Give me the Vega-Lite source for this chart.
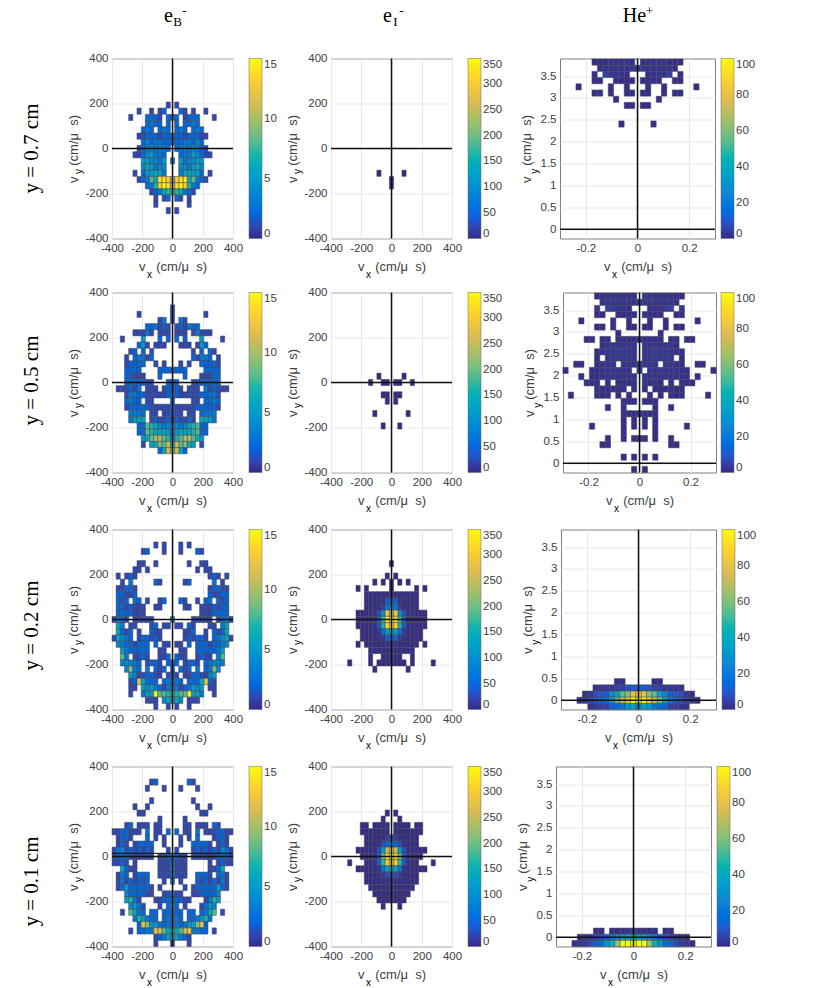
{"$schema":"https://vega.github.io/schema/vega-lite/v6.json","padding":{"left":20,"top":3.5,"right":0,"bottom":0},"background":"white","spacing":8,"resolve":{"scale":{"color":"independent"}},"config":{"view":{"stroke":"#808080"},"font":"Liberation Sans","axis":{"grid":true,"gridColor":"#e8e8e8","domain":false,"tickSize":0,"labelPadding":4,"labelFontSize":11.5,"labelColor":"#404040","titleFontSize":13,"titleFontWeight":"normal","titleColor":"#404040","labelExpr":"toString(datum.value)","labelFlush":false,"labelOverlap":false},"axisX":{"titlePadding":6},"axisY":{"titlePadding":4},"legend":{"gradientLength":180,"gradientThickness":13,"title":null,"offset":15.5,"labelFontSize":11.5,"labelColor":"#404040","gradientStrokeColor":"#666","gradientStrokeWidth":0.5,"labelOverlap":false},"rect":{"stroke":"#444","strokeWidth":0.5,"height":6.2,"clip":true},"rule":{"stroke":"#111","strokeWidth":1.5},"style":{"sub":{"font":"Liberation Sans","fontSize":10,"fill":"#404040"},"rl":{"font":"Liberation Serif","fontSize":21,"angle":270,"fill":"#111"},"hd":{"font":"Liberation Serif","fontSize":20,"fill":"#111","baseline":"alphabetic"},"hs":{"font":"Liberation Serif","fontSize":13,"fill":"#111","baseline":"alphabetic"}}},"vconcat":[{"spacing":5,"resolve":{"scale":{"color":"independent"}},"vconcat":[{"spacing":15,"resolve":{"scale":{"color":"independent"}},"hconcat":[{"spacing":8,"resolve":{"scale":{"color":"independent"}},"hconcat":[
{"width":121,"height":180,"layer":[{"data":{"values":"x,y,v\n-28,193,1\n28,193,1\n-221,166,1\n221,166,1\n-138,166,1\n138,166,1\n-83,166,1\n83,166,1\n-55,166,2\n55,166,2\n-276,138,1\n276,138,1\n-166,138,2\n166,138,2\n-138,138,2\n138,138,2\n-110,138,2\n110,138,2\n-83,138,1\n83,138,1\n-28,138,2\n28,138,2\n0,138,2\n-166,110,2\n166,110,2\n-138,110,3\n138,110,3\n-110,110,2\n110,110,2\n-83,110,2\n83,110,2\n-28,110,2\n28,110,2\n-193,83,2\n193,83,2\n-166,83,3\n166,83,3\n-138,83,2\n138,83,2\n-83,83,2\n83,83,2\n-55,83,3\n55,83,3\n-28,83,2\n28,83,2\n-221,55,1\n221,55,1\n-193,55,1\n193,55,1\n-166,55,2\n166,55,2\n-138,55,2\n138,55,2\n-110,55,2\n110,55,2\n-83,55,1\n83,55,1\n-55,55,2\n55,55,2\n-28,55,2\n28,55,2\n0,55,2\n-193,28,2\n193,28,2\n-166,28,4\n166,28,4\n-138,28,2\n138,28,2\n-110,28,3\n110,28,3\n-83,28,3\n83,28,3\n-55,28,2\n55,28,2\n-28,28,2\n28,28,2\n0,28,3\n-221,0,1\n221,0,1\n-193,0,2\n193,0,2\n-166,0,3\n166,0,3\n-138,0,4\n138,0,4\n-110,0,3\n110,0,3\n-83,0,4\n83,0,4\n-55,0,3\n55,0,3\n-28,0,2\n28,0,2\n-248,-28,1\n248,-28,1\n-221,-28,1\n221,-28,1\n-193,-28,2\n193,-28,2\n-166,-28,4\n166,-28,4\n-138,-28,5\n138,-28,5\n-110,-28,3\n110,-28,3\n-83,-28,3\n83,-28,3\n-55,-28,2\n55,-28,2\n-193,-55,5\n193,-55,5\n-166,-55,5\n166,-55,5\n-138,-55,4\n138,-55,4\n-110,-55,4\n110,-55,4\n-83,-55,3\n83,-55,3\n-55,-55,5\n55,-55,5\n0,-55,3\n-193,-83,4\n193,-83,4\n-166,-83,6\n166,-83,6\n-138,-83,5\n138,-83,5\n-110,-83,3\n110,-83,3\n-83,-83,4\n83,-83,4\n-55,-83,4\n55,-83,4\n-248,-110,1\n248,-110,1\n-193,-110,2\n193,-110,2\n-166,-110,5\n166,-110,5\n-138,-110,5\n138,-110,5\n-110,-110,6\n110,-110,6\n-83,-110,6\n83,-110,6\n-55,-110,3\n55,-110,3\n-221,-138,1\n221,-138,1\n-193,-138,2\n193,-138,2\n-166,-138,3\n166,-138,3\n-138,-138,8\n138,-138,8\n-110,-138,6\n110,-138,6\n-83,-138,14\n83,-138,14\n-55,-138,14\n55,-138,14\n-28,-138,13\n28,-138,13\n0,-138,10\n-166,-166,2\n166,-166,2\n-138,-166,3\n138,-166,3\n-110,-166,7\n110,-166,7\n-83,-166,13\n83,-166,13\n-55,-166,15\n55,-166,15\n-28,-166,14\n28,-166,14\n0,-166,11\n-138,-193,1\n138,-193,1\n-110,-193,2\n110,-193,2\n-83,-193,3\n83,-193,3\n-55,-193,6\n55,-193,6\n-28,-193,7\n28,-193,7\n0,-193,7\n-110,-221,1\n110,-221,1\n-55,-221,1\n55,-221,1\n-28,-221,2\n28,-221,2\n-110,-248,1\n110,-248,1\n-28,-276,1\n28,-276,1","format":{"type":"csv"}},"mark":{"type":"rect","width":4.2},"encoding":{"x":{"field":"x","type":"quantitative","scale":{"domain":[-400,400],"nice":false},"axis":{"tickCount":5,"title":"v\u00a0\u00a0\u00a0(cm/μ\u00a0\u00a0s)"}},"y":{"field":"y","type":"quantitative","scale":{"domain":[-400,400],"nice":false},"axis":{"tickCount":5,"title":"v\u00a0\u00a0\u00a0(cm/μ\u00a0\u00a0s)"}},"color":{"field":"v","type":"quantitative","scale":{"domain":[0,15],"range":["#352a87","#0363e1","#1485d4","#06a7c6","#38b99e","#92bf73","#d9ba56","#fcce2e","#f9fb0e"]},"legend":{"values":[0,5,10,15]}}}},{"data":{"values":[{"a":0}]},"mark":"rule","encoding":{"x":{"datum":0}}},{"data":{"values":[{"a":0}]},"mark":"rule","encoding":{"y":{"datum":0}}},{"data":{"values":[{"t":"x"}]},"mark":{"type":"text","style":"sub","dx":-23,"dy":36},"encoding":{"x":{"datum":0},"y":{"datum":-400},"text":{"field":"t"}}},{"data":{"values":[{"t":"y"}]},"mark":{"type":"text","style":"sub","angle":270,"dx":-23,"dy":-33},"encoding":{"x":{"datum":-400},"y":{"datum":0},"text":{"field":"t"}}},{"data":{"values":[{"t":"y = 0.7 cm"}]},"mark":{"type":"text","style":"rl","dy":-80},"encoding":{"x":{"datum":-400},"y":{"datum":0},"text":{"field":"t"}}},{"data":{"values":[{"t":"e"}]},"mark":{"type":"text","style":"hd","dx":-4,"dy":-37},"encoding":{"x":{"datum":0},"y":{"datum":400},"text":{"field":"t"}}},{"data":{"values":[{"t":"B"}]},"mark":{"type":"text","style":"hs","dx":5,"dy":-33},"encoding":{"x":{"datum":0},"y":{"datum":400},"text":{"field":"t"}}},{"data":{"values":[{"t":"-"}]},"mark":{"type":"text","style":"hs","dx":12,"dy":-44},"encoding":{"x":{"datum":0},"y":{"datum":400},"text":{"field":"t"}}}]},
{"width":121,"height":180,"layer":[{"data":{"values":"x,y,v\n-83,-110,1\n83,-110,1\n0,-166,1\n0,-138,1","format":{"type":"csv"}},"mark":{"type":"rect","width":4.2},"encoding":{"x":{"field":"x","type":"quantitative","scale":{"domain":[-400,400],"nice":false},"axis":{"tickCount":5,"title":"v\u00a0\u00a0\u00a0(cm/μ\u00a0\u00a0s)"}},"y":{"field":"y","type":"quantitative","scale":{"domain":[-400,400],"nice":false},"axis":{"tickCount":5,"title":"v\u00a0\u00a0\u00a0(cm/μ\u00a0\u00a0s)"}},"color":{"field":"v","type":"quantitative","scale":{"domain":[0,350],"range":["#352a87","#0363e1","#1485d4","#06a7c6","#38b99e","#92bf73","#d9ba56","#fcce2e","#f9fb0e"]},"legend":{"values":[0,50,100,150,200,250,300,350]}}}},{"data":{"values":[{"a":0}]},"mark":"rule","encoding":{"x":{"datum":0}}},{"data":{"values":[{"a":0}]},"mark":"rule","encoding":{"y":{"datum":0}}},{"data":{"values":[{"t":"x"}]},"mark":{"type":"text","style":"sub","dx":-23,"dy":36},"encoding":{"x":{"datum":0},"y":{"datum":-400},"text":{"field":"t"}}},{"data":{"values":[{"t":"y"}]},"mark":{"type":"text","style":"sub","angle":270,"dx":-23,"dy":-33},"encoding":{"x":{"datum":-400},"y":{"datum":0},"text":{"field":"t"}}},{"data":{"values":[{"t":"e"}]},"mark":{"type":"text","style":"hd","dx":-4,"dy":-37},"encoding":{"x":{"datum":0},"y":{"datum":400},"text":{"field":"t"}}},{"data":{"values":[{"t":"I"}]},"mark":{"type":"text","style":"hs","dx":4,"dy":-33},"encoding":{"x":{"datum":0},"y":{"datum":400},"text":{"field":"t"}}},{"data":{"values":[{"t":"-"}]},"mark":{"type":"text","style":"hs","dx":10,"dy":-44},"encoding":{"x":{"datum":0},"y":{"datum":400},"text":{"field":"t"}}}]}]},
{"width":155,"height":180,"layer":[{"data":{"values":"x,y,v\n-.166,3.818,1\n.166,3.818,1\n-.145,3.818,1\n.145,3.818,1\n-.124,3.818,1\n.124,3.818,1\n-.103,3.818,2\n.103,3.818,2\n-.083,3.818,2\n.083,3.818,2\n-.062,3.818,2\n.062,3.818,2\n-.041,3.818,2\n.041,3.818,2\n-.021,3.818,1\n.021,3.818,1\n-.145,3.676,1\n.145,3.676,1\n-.124,3.676,2\n.124,3.676,2\n-.103,3.676,2\n.103,3.676,2\n-.083,3.676,2\n.083,3.676,2\n-.062,3.676,2\n.062,3.676,2\n-.041,3.676,2\n.041,3.676,2\n-.021,3.676,2\n.021,3.676,2\n0,3.676,2\n-.166,3.535,1\n.166,3.535,1\n-.124,3.535,5\n.124,3.535,5\n-.103,3.535,2\n.103,3.535,2\n-.083,3.535,2\n.083,3.535,2\n-.062,3.535,2\n.062,3.535,2\n-.041,3.535,1\n.041,3.535,1\n-.166,3.394,1\n.166,3.394,1\n-.145,3.394,1\n.145,3.394,1\n-.083,3.394,1\n.083,3.394,1\n-.062,3.394,1\n.062,3.394,1\n-.041,3.394,1\n.041,3.394,1\n-.021,3.394,1\n.021,3.394,1\n-.228,3.252,1\n.228,3.252,1\n-.103,3.252,1\n.103,3.252,1\n-.041,3.252,1\n.041,3.252,1\n-.166,3.111,1\n.166,3.111,1\n-.145,3.111,1\n.145,3.111,1\n-.103,3.111,1\n.103,3.111,1\n-.041,3.111,1\n.041,3.111,1\n-.021,3.111,1\n.021,3.111,1\n-.083,2.969,1\n.083,2.969,1\n-.041,2.828,1\n.041,2.828,1\n-.021,2.828,1\n.021,2.828,1\n-.062,2.404,1\n.062,2.404,1","format":{"type":"csv"}},"mark":{"type":"rect","width":5.35},"encoding":{"x":{"field":"x","type":"quantitative","scale":{"domain":[-0.3,0.3],"nice":false},"axis":{"tickCount":3,"title":"v\u00a0\u00a0\u00a0(cm/μ\u00a0\u00a0s)"}},"y":{"field":"y","type":"quantitative","scale":{"domain":[-0.21,3.9],"nice":false},"axis":{"tickCount":8,"titlePadding":7,"title":"v\u00a0\u00a0\u00a0(cm/μ\u00a0\u00a0s)"}},"color":{"field":"v","type":"quantitative","scale":{"domain":[0,100],"range":["#352a87","#0363e1","#1485d4","#06a7c6","#38b99e","#92bf73","#d9ba56","#fcce2e","#f9fb0e"]},"legend":{"values":[0,20,40,60,80,100],"offset":6}}}},{"data":{"values":[{"a":0}]},"mark":"rule","encoding":{"x":{"datum":0}}},{"data":{"values":[{"a":0}]},"mark":"rule","encoding":{"y":{"datum":0}}},{"data":{"values":[{"t":"x"}]},"mark":{"type":"text","style":"sub","dx":-23,"dy":36},"encoding":{"x":{"datum":0},"y":{"datum":-0.21},"text":{"field":"t"}}},{"data":{"values":[{"t":"y"}]},"mark":{"type":"text","style":"sub","angle":270,"dx":-23,"dy":-25},"encoding":{"x":{"datum":-0.3},"y":{"datum":1.85},"text":{"field":"t"}}},{"data":{"values":[{"t":"He"}]},"mark":{"type":"text","style":"hd","dx":-3,"dy":-37},"encoding":{"x":{"datum":0},"y":{"datum":3.9},"text":{"field":"t"}}},{"data":{"values":[{"t":"+"}]},"mark":{"type":"text","style":"hs","dx":12,"dy":-44},"encoding":{"x":{"datum":0},"y":{"datum":3.9},"text":{"field":"t"}}}]}]},
{"spacing":18,"resolve":{"scale":{"color":"independent"}},"hconcat":[{"spacing":8,"resolve":{"scale":{"color":"independent"}},"hconcat":[
{"width":121,"height":180,"layer":[{"data":{"values":"x,y,v\n0,331,1\n-221,303,1\n221,303,1\n0,303,1\n-83,276,1\n83,276,1\n-55,276,3\n55,276,3\n0,276,1\n-166,248,2\n166,248,2\n-138,248,2\n138,248,2\n-110,248,3\n110,248,3\n-83,248,1\n83,248,1\n-55,248,2\n55,248,2\n-28,248,1\n28,248,1\n-248,221,1\n248,221,1\n-221,221,1\n221,221,1\n-193,221,1\n193,221,1\n-166,221,3\n166,221,3\n-138,221,1\n138,221,1\n-83,221,1\n83,221,1\n-55,221,1\n55,221,1\n-28,221,1\n28,221,1\n-331,193,1\n331,193,1\n-193,193,5\n193,193,5\n-83,193,2\n83,193,2\n-28,193,2\n28,193,2\n-221,166,2\n221,166,2\n-193,166,5\n193,166,5\n-166,166,1\n166,166,1\n-110,166,1\n110,166,1\n-83,166,1\n83,166,1\n-55,166,1\n55,166,1\n-276,138,1\n276,138,1\n-248,138,2\n248,138,2\n-193,138,2\n193,138,2\n-138,138,1\n138,138,1\n-303,110,1\n303,110,1\n-248,110,2\n248,110,2\n-221,110,3\n221,110,3\n-193,110,3\n193,110,3\n-166,110,1\n166,110,1\n-138,110,2\n138,110,2\n-303,83,1\n303,83,1\n-276,83,2\n276,83,2\n-248,83,2\n248,83,2\n-221,83,2\n221,83,2\n-193,83,2\n193,83,2\n-110,83,1\n110,83,1\n-55,83,1\n55,83,1\n-303,55,2\n303,55,2\n-276,55,2\n276,55,2\n-248,55,2\n248,55,2\n-221,55,2\n221,55,2\n-83,55,2\n83,55,2\n-55,55,2\n55,55,2\n-28,55,2\n28,55,2\n0,55,2\n-303,28,2\n303,28,2\n-276,28,2\n276,28,2\n-248,28,1\n248,28,1\n-221,28,1\n221,28,1\n-193,28,1\n193,28,1\n-83,28,2\n83,28,2\n-303,0,2\n303,0,2\n-276,0,2\n276,0,2\n-248,0,2\n248,0,2\n-221,0,2\n221,0,2\n-193,0,2\n193,0,2\n-166,0,1\n166,0,1\n-138,0,1\n138,0,1\n-28,0,2\n28,0,2\n0,0,2\n-359,-28,1\n359,-28,1\n-331,-28,1\n331,-28,1\n-303,-28,1\n303,-28,1\n-276,-28,2\n276,-28,2\n-248,-28,1\n248,-28,1\n-221,-28,3\n221,-28,3\n-166,-28,1\n166,-28,1\n-138,-28,1\n138,-28,1\n-110,-28,1\n110,-28,1\n-55,-28,1\n55,-28,1\n-28,-28,2\n28,-28,2\n0,-28,2\n-303,-55,1\n303,-55,1\n-276,-55,3\n276,-55,3\n-248,-55,3\n248,-55,3\n-221,-55,2\n221,-55,2\n-193,-55,2\n193,-55,2\n-166,-55,1\n166,-55,1\n-138,-55,1\n138,-55,1\n-110,-55,1\n110,-55,1\n-83,-55,1\n83,-55,1\n-55,-55,1\n55,-55,1\n-28,-55,2\n28,-55,2\n0,-55,3\n-303,-83,2\n303,-83,2\n-276,-83,3\n276,-83,3\n-248,-83,2\n248,-83,2\n-221,-83,2\n221,-83,2\n-166,-83,1\n166,-83,1\n-138,-83,1\n138,-83,1\n0,-83,2\n-303,-110,1\n303,-110,1\n-276,-110,2\n276,-110,2\n-248,-110,2\n248,-110,2\n-221,-110,2\n221,-110,2\n-193,-110,2\n193,-110,2\n-166,-110,2\n166,-110,2\n-138,-110,1\n138,-110,1\n-110,-110,1\n110,-110,1\n-83,-110,1\n83,-110,1\n-55,-110,1\n55,-110,1\n-28,-110,1\n28,-110,1\n0,-110,2\n-276,-138,3\n276,-138,3\n-248,-138,3\n248,-138,3\n-221,-138,3\n221,-138,3\n-193,-138,2\n193,-138,2\n-138,-138,1\n138,-138,1\n-110,-138,1\n110,-138,1\n-55,-138,1\n55,-138,1\n-28,-138,1\n28,-138,1\n0,-138,2\n-276,-166,3\n276,-166,3\n-248,-166,5\n248,-166,5\n-221,-166,6\n221,-166,6\n-193,-166,6\n193,-166,6\n-138,-166,1\n138,-166,1\n-110,-166,2\n110,-166,2\n-83,-166,1\n83,-166,1\n-55,-166,1\n55,-166,1\n-28,-166,2\n28,-166,2\n0,-166,1\n-221,-193,2\n221,-193,2\n-193,-193,2\n193,-193,2\n-166,-193,8\n166,-193,8\n-138,-193,7\n138,-193,7\n-110,-193,6\n110,-193,6\n-83,-193,4\n83,-193,4\n-55,-193,3\n55,-193,3\n-28,-193,4\n28,-193,4\n0,-193,4\n-221,-221,2\n221,-221,2\n-193,-221,2\n193,-221,2\n-166,-221,8\n166,-221,8\n-138,-221,7\n138,-221,7\n-110,-221,6\n110,-221,6\n-83,-221,6\n83,-221,6\n-55,-221,6\n55,-221,6\n-28,-221,5\n28,-221,5\n0,-221,3\n-193,-248,5\n193,-248,5\n-166,-248,6\n166,-248,6\n-138,-248,8\n138,-248,8\n-110,-248,10\n110,-248,10\n-83,-248,10\n83,-248,10\n-55,-248,8\n55,-248,8\n-28,-248,7\n28,-248,7\n0,-248,3\n-193,-276,1\n193,-276,1\n-138,-276,5\n138,-276,5\n-110,-276,6\n110,-276,6\n-83,-276,9\n83,-276,9\n-55,-276,8\n55,-276,8\n-28,-276,11\n28,-276,11\n0,-276,6\n-83,-303,2\n83,-303,2\n-55,-303,6\n55,-303,6\n-28,-303,11\n28,-303,11\n0,-303,9","format":{"type":"csv"}},"mark":{"type":"rect","width":4.2},"encoding":{"x":{"field":"x","type":"quantitative","scale":{"domain":[-400,400],"nice":false},"axis":{"tickCount":5,"title":"v\u00a0\u00a0\u00a0(cm/μ\u00a0\u00a0s)"}},"y":{"field":"y","type":"quantitative","scale":{"domain":[-400,400],"nice":false},"axis":{"tickCount":5,"title":"v\u00a0\u00a0\u00a0(cm/μ\u00a0\u00a0s)"}},"color":{"field":"v","type":"quantitative","scale":{"domain":[0,15],"range":["#352a87","#0363e1","#1485d4","#06a7c6","#38b99e","#92bf73","#d9ba56","#fcce2e","#f9fb0e"]},"legend":{"values":[0,5,10,15]}}}},{"data":{"values":[{"a":0}]},"mark":"rule","encoding":{"x":{"datum":0}}},{"data":{"values":[{"a":0}]},"mark":"rule","encoding":{"y":{"datum":0}}},{"data":{"values":[{"t":"x"}]},"mark":{"type":"text","style":"sub","dx":-23,"dy":36},"encoding":{"x":{"datum":0},"y":{"datum":-400},"text":{"field":"t"}}},{"data":{"values":[{"t":"y"}]},"mark":{"type":"text","style":"sub","angle":270,"dx":-23,"dy":-33},"encoding":{"x":{"datum":-400},"y":{"datum":0},"text":{"field":"t"}}},{"data":{"values":[{"t":"y = 0.5 cm"}]},"mark":{"type":"text","style":"rl","dy":-80,"dx":2},"encoding":{"x":{"datum":-400},"y":{"datum":0},"text":{"field":"t"}}}]},
{"width":121,"height":180,"layer":[{"data":{"values":"x,y,v\n-83,28,1\n83,28,1\n-138,0,1\n138,0,1\n-55,0,1\n55,0,1\n-28,0,1\n28,0,1\n-55,-55,1\n55,-55,1\n-28,-55,1\n28,-55,1\n-28,-83,1\n28,-83,1\n-110,-138,1\n110,-138,1\n-55,-193,1\n55,-193,1","format":{"type":"csv"}},"mark":{"type":"rect","width":4.2},"encoding":{"x":{"field":"x","type":"quantitative","scale":{"domain":[-400,400],"nice":false},"axis":{"tickCount":5,"title":"v\u00a0\u00a0\u00a0(cm/μ\u00a0\u00a0s)"}},"y":{"field":"y","type":"quantitative","scale":{"domain":[-400,400],"nice":false},"axis":{"tickCount":5,"title":"v\u00a0\u00a0\u00a0(cm/μ\u00a0\u00a0s)"}},"color":{"field":"v","type":"quantitative","scale":{"domain":[0,350],"range":["#352a87","#0363e1","#1485d4","#06a7c6","#38b99e","#92bf73","#d9ba56","#fcce2e","#f9fb0e"]},"legend":{"values":[0,50,100,150,200,250,300,350]}}}},{"data":{"values":[{"a":0}]},"mark":"rule","encoding":{"x":{"datum":0}}},{"data":{"values":[{"a":0}]},"mark":"rule","encoding":{"y":{"datum":0}}},{"data":{"values":[{"t":"x"}]},"mark":{"type":"text","style":"sub","dx":-23,"dy":36},"encoding":{"x":{"datum":0},"y":{"datum":-400},"text":{"field":"t"}}},{"data":{"values":[{"t":"y"}]},"mark":{"type":"text","style":"sub","angle":270,"dx":-23,"dy":-33},"encoding":{"x":{"datum":-400},"y":{"datum":0},"text":{"field":"t"}}}]}]},
{"width":153,"height":180,"layer":[{"data":{"values":"x,y,v\n-.166,3.818,1\n.166,3.818,1\n-.145,3.818,2\n.145,3.818,2\n-.124,3.818,2\n.124,3.818,2\n-.103,3.818,2\n.103,3.818,2\n-.083,3.818,2\n.083,3.818,2\n-.062,3.818,2\n.062,3.818,2\n-.041,3.818,2\n.041,3.818,2\n-.021,3.818,2\n.021,3.818,2\n-.145,3.676,2\n.145,3.676,2\n-.124,3.676,2\n.124,3.676,2\n-.103,3.676,2\n.103,3.676,2\n-.083,3.676,2\n.083,3.676,2\n-.062,3.676,2\n.062,3.676,2\n-.041,3.676,2\n.041,3.676,2\n-.021,3.676,2\n.021,3.676,2\n0,3.676,2\n-.166,3.535,2\n.166,3.535,2\n-.124,3.535,5\n.124,3.535,5\n-.103,3.535,3\n.103,3.535,3\n-.083,3.535,2\n.083,3.535,2\n-.062,3.535,2\n.062,3.535,2\n-.041,3.535,1\n.041,3.535,1\n-.166,3.394,1\n.166,3.394,1\n-.145,3.394,1\n.145,3.394,1\n-.083,3.394,1\n.083,3.394,1\n-.062,3.394,1\n.062,3.394,1\n-.041,3.394,1\n.041,3.394,1\n-.021,3.394,1\n.021,3.394,1\n-.228,3.252,1\n.228,3.252,1\n-.103,3.252,1\n.103,3.252,1\n-.041,3.252,1\n.041,3.252,1\n-.166,3.111,1\n.166,3.111,1\n-.145,3.111,1\n.145,3.111,1\n-.103,3.111,1\n.103,3.111,1\n-.041,3.111,1\n.041,3.111,1\n-.021,3.111,1\n.021,3.111,1\n-.083,2.969,1\n.083,2.969,1\n-.207,2.828,1\n.207,2.828,1\n-.186,2.828,1\n.186,2.828,1\n-.145,2.828,1\n.145,2.828,1\n-.124,2.828,1\n.124,2.828,1\n-.083,2.828,1\n.083,2.828,1\n-.062,2.828,1\n.062,2.828,1\n-.041,2.828,1\n.041,2.828,1\n-.021,2.828,1\n.021,2.828,1\n0,2.828,1\n-.145,2.687,1\n.145,2.687,1\n-.124,2.687,2\n.124,2.687,2\n-.103,2.687,2\n.103,2.687,2\n-.083,2.687,2\n.083,2.687,2\n-.062,2.687,2\n.062,2.687,2\n-.041,2.687,2\n.041,2.687,2\n-.021,2.687,2\n.021,2.687,2\n-.166,2.545,1\n.166,2.545,1\n-.145,2.545,2\n.145,2.545,2\n-.124,2.545,2\n.124,2.545,2\n-.103,2.545,3\n.103,2.545,3\n-.083,2.545,3\n.083,2.545,3\n-.062,2.545,4\n.062,2.545,4\n-.041,2.545,2\n.041,2.545,2\n-.021,2.545,2\n.021,2.545,2\n-.166,2.404,1\n.166,2.404,1\n-.124,2.404,2\n.124,2.404,2\n-.103,2.404,3\n.103,2.404,3\n-.083,2.404,3\n.083,2.404,3\n-.062,2.404,3\n.062,2.404,3\n-.041,2.404,2\n.041,2.404,2\n-.021,2.404,2\n.021,2.404,2\n-.248,2.262,1\n.248,2.262,1\n-.228,2.262,1\n.228,2.262,1\n-.166,2.262,1\n.166,2.262,1\n-.145,2.262,2\n.145,2.262,2\n-.124,2.262,2\n.124,2.262,2\n-.103,2.262,2\n.103,2.262,2\n-.062,2.262,2\n.062,2.262,2\n-.041,2.262,3\n.041,2.262,3\n-.021,2.262,2\n.021,2.262,2\n0,2.262,2\n-.29,2.121,1\n.29,2.121,1\n-.186,2.121,1\n.186,2.121,1\n-.166,2.121,1\n.166,2.121,1\n-.145,2.121,2\n.145,2.121,2\n-.124,2.121,2\n.124,2.121,2\n-.103,2.121,2\n.103,2.121,2\n-.083,2.121,3\n.083,2.121,3\n-.062,2.121,2\n.062,2.121,2\n-.041,2.121,2\n.041,2.121,2\n0,2.121,2\n-.228,1.98,1\n.228,1.98,1\n-.186,1.98,1\n.186,1.98,1\n-.166,1.98,1\n.166,1.98,1\n-.145,1.98,2\n.145,1.98,2\n-.124,1.98,2\n.124,1.98,2\n-.103,1.98,2\n.103,1.98,2\n-.083,1.98,2\n.083,1.98,2\n-.062,1.98,2\n.062,1.98,2\n-.041,1.98,2\n.041,1.98,2\n-.021,1.98,2\n.021,1.98,2\n-.207,1.838,1\n.207,1.838,1\n-.186,1.838,1\n.186,1.838,1\n-.166,1.838,1\n.166,1.838,1\n-.124,1.838,1\n.124,1.838,1\n-.083,1.838,1\n.083,1.838,1\n-.062,1.838,2\n.062,1.838,2\n-.041,1.838,1\n.041,1.838,1\n-.021,1.838,2\n.021,1.838,2\n-.166,1.697,1\n.166,1.697,1\n-.145,1.697,1\n.145,1.697,1\n-.124,1.697,1\n.124,1.697,1\n-.103,1.697,1\n.103,1.697,1\n-.083,1.697,1\n.083,1.697,1\n-.062,1.697,1\n.062,1.697,1\n-.021,1.697,1\n.021,1.697,1\n-.269,1.555,1\n.269,1.555,1\n-.166,1.555,1\n.166,1.555,1\n-.145,1.555,1\n.145,1.555,1\n-.124,1.555,1\n.124,1.555,1\n-.083,1.555,1\n.083,1.555,1\n-.041,1.555,1\n.041,1.555,1\n-.062,1.414,2\n.062,1.414,2\n-.041,1.414,1\n.041,1.414,1\n-.021,1.414,1\n.021,1.414,1\n-.124,1.273,1\n.124,1.273,1\n-.062,1.273,1\n.062,1.273,1\n-.062,1.131,1\n.062,1.131,1\n-.041,1.131,1\n.041,1.131,1\n-.021,1.131,1\n.021,1.131,1\n0,1.131,1\n-.062,.99,1\n.062,.99,1\n-.021,.99,1\n.021,.99,1\n-.186,.848,1\n.186,.848,1\n-.062,.848,1\n.062,.848,1\n-.021,.848,1\n.021,.848,1\n-.062,.707,1\n.062,.707,1\n-.124,.566,1\n.124,.566,1\n-.062,.566,1\n.062,.566,1\n-.021,.566,1\n.021,.566,1\n0,.566,1\n-.145,.424,1\n.145,.424,1\n-.124,.424,1\n.124,.424,1\n-.062,.141,1\n.062,.141,1\n-.021,.141,1\n.021,.141,1\n-.021,-.141,1\n.021,-.141,1","format":{"type":"csv"}},"mark":{"type":"rect","width":5.3},"encoding":{"x":{"field":"x","type":"quantitative","scale":{"domain":[-0.3,0.3],"nice":false},"axis":{"tickCount":3,"title":"v\u00a0\u00a0\u00a0(cm/μ\u00a0\u00a0s)"}},"y":{"field":"y","type":"quantitative","scale":{"domain":[-0.21,3.9],"nice":false},"axis":{"tickCount":8,"titlePadding":7,"title":"v\u00a0\u00a0\u00a0(cm/μ\u00a0\u00a0s)"}},"color":{"field":"v","type":"quantitative","scale":{"domain":[0,100],"range":["#352a87","#0363e1","#1485d4","#06a7c6","#38b99e","#92bf73","#d9ba56","#fcce2e","#f9fb0e"]},"legend":{"values":[0,20,40,60,80,100],"offset":5}}}},{"data":{"values":[{"a":0}]},"mark":"rule","encoding":{"x":{"datum":0}}},{"data":{"values":[{"a":0}]},"mark":"rule","encoding":{"y":{"datum":0}}},{"data":{"values":[{"t":"x"}]},"mark":{"type":"text","style":"sub","dx":-23,"dy":36},"encoding":{"x":{"datum":0},"y":{"datum":-0.21},"text":{"field":"t"}}},{"data":{"values":[{"t":"y"}]},"mark":{"type":"text","style":"sub","angle":270,"dx":-23,"dy":-25},"encoding":{"x":{"datum":-0.3},"y":{"datum":1.85},"text":{"field":"t"}}}]}]}]},
{"spacing":16,"resolve":{"scale":{"color":"independent"}},"hconcat":[{"spacing":8,"resolve":{"scale":{"color":"independent"}},"hconcat":[
{"width":121,"height":180,"layer":[{"data":{"values":"x,y,v\n-110,331,1\n110,331,1\n-55,331,1\n55,331,1\n-193,303,1\n193,303,1\n-166,303,2\n166,303,2\n-55,303,1\n55,303,1\n-221,248,1\n221,248,1\n-193,248,1\n193,248,1\n-110,248,1\n110,248,1\n-248,221,1\n248,221,1\n-221,221,1\n221,221,1\n-166,221,1\n166,221,1\n-359,193,1\n359,193,1\n-303,193,1\n303,193,1\n-276,193,2\n276,193,2\n-248,193,1\n248,193,1\n-331,166,1\n331,166,1\n-276,166,3\n276,166,3\n-110,166,2\n110,166,2\n-83,166,1\n83,166,1\n-359,138,1\n359,138,1\n-331,138,1\n331,138,1\n-303,138,2\n303,138,2\n-276,138,2\n276,138,2\n-248,138,1\n248,138,1\n-359,110,2\n359,110,2\n-331,110,2\n331,110,2\n-303,110,1\n303,110,1\n-276,110,1\n276,110,1\n-248,110,2\n248,110,2\n-359,83,2\n359,83,2\n-331,83,1\n331,83,1\n-303,83,2\n303,83,2\n-248,83,3\n248,83,3\n-221,83,2\n221,83,2\n-166,83,1\n166,83,1\n-83,83,1\n83,83,1\n-55,83,2\n55,83,2\n-359,55,2\n359,55,2\n-331,55,2\n331,55,2\n-303,55,1\n303,55,1\n-276,55,2\n276,55,2\n-248,55,1\n248,55,1\n-221,55,1\n221,55,1\n-193,55,1\n193,55,1\n-110,55,1\n110,55,1\n-83,55,1\n83,55,1\n-359,28,2\n359,28,2\n-331,28,2\n331,28,2\n-303,28,2\n303,28,2\n-276,28,2\n276,28,2\n-248,28,1\n248,28,1\n-221,28,1\n221,28,1\n-193,28,1\n193,28,1\n-386,0,1\n386,0,1\n-359,0,3\n359,0,3\n-331,0,2\n331,0,2\n-303,0,1\n303,0,1\n-248,0,1\n248,0,1\n-221,0,1\n221,0,1\n-193,0,1\n193,0,1\n-166,0,1\n166,0,1\n-138,0,1\n138,0,1\n0,0,4\n-359,-28,6\n359,-28,6\n-331,-28,3\n331,-28,3\n-276,-28,1\n276,-28,1\n-248,-28,1\n248,-28,1\n-138,-28,1\n138,-28,1\n-110,-28,2\n110,-28,2\n-55,-28,1\n55,-28,1\n-28,-28,1\n28,-28,1\n-359,-55,6\n359,-55,6\n-331,-55,2\n331,-55,2\n-303,-55,1\n303,-55,1\n-276,-55,2\n276,-55,2\n-221,-55,1\n221,-55,1\n-138,-55,2\n138,-55,2\n-110,-55,1\n110,-55,1\n-83,-55,1\n83,-55,1\n-386,-83,1\n386,-83,1\n-359,-83,6\n359,-83,6\n-331,-83,4\n331,-83,4\n-303,-83,3\n303,-83,3\n-276,-83,2\n276,-83,2\n-221,-83,1\n221,-83,1\n-193,-83,2\n193,-83,2\n-166,-83,2\n166,-83,2\n-138,-83,1\n138,-83,1\n-110,-83,2\n110,-83,2\n-83,-83,1\n83,-83,1\n-359,-110,4\n359,-110,4\n-331,-110,3\n331,-110,3\n-303,-110,2\n303,-110,2\n-276,-110,2\n276,-110,2\n-248,-110,1\n248,-110,1\n-221,-110,2\n221,-110,2\n-193,-110,2\n193,-110,2\n-166,-110,2\n166,-110,2\n-110,-110,2\n110,-110,2\n-28,-110,1\n28,-110,1\n-55,-110,1\n55,-110,1\n-331,-138,5\n331,-138,5\n-303,-138,3\n303,-138,3\n-276,-138,2\n276,-138,2\n-248,-138,2\n248,-138,2\n-221,-138,2\n221,-138,2\n-193,-138,2\n193,-138,2\n-166,-138,2\n166,-138,2\n-83,-138,1\n83,-138,1\n-55,-138,1\n55,-138,1\n-331,-166,8\n331,-166,8\n-303,-166,3\n303,-166,3\n-248,-166,1\n248,-166,1\n-221,-166,1\n221,-166,1\n-193,-166,2\n193,-166,2\n-166,-166,1\n166,-166,1\n-83,-166,1\n83,-166,1\n-55,-166,1\n55,-166,1\n-28,-166,2\n28,-166,2\n-331,-193,3\n331,-193,3\n-303,-193,4\n303,-193,4\n-276,-193,4\n276,-193,4\n-248,-193,3\n248,-193,3\n-221,-193,2\n221,-193,2\n-166,-193,1\n166,-193,1\n-138,-193,2\n138,-193,2\n-110,-193,2\n110,-193,2\n-83,-193,1\n83,-193,1\n-28,-193,2\n28,-193,2\n0,-193,2\n-303,-221,4\n303,-221,4\n-276,-221,9\n276,-221,9\n-248,-221,3\n248,-221,3\n-221,-221,2\n221,-221,2\n-166,-221,3\n166,-221,3\n-110,-221,2\n110,-221,2\n-83,-221,1\n83,-221,1\n-55,-221,2\n55,-221,2\n0,-221,2\n-276,-248,5\n276,-248,5\n-248,-248,4\n248,-248,4\n-221,-248,1\n221,-248,1\n-193,-248,1\n193,-248,1\n-166,-248,2\n166,-248,2\n-138,-248,2\n138,-248,2\n-110,-248,1\n110,-248,1\n-83,-248,1\n83,-248,1\n-28,-248,1\n28,-248,1\n0,-248,2\n-276,-276,1\n276,-276,1\n-248,-276,2\n248,-276,2\n-221,-276,12\n221,-276,12\n-193,-276,6\n193,-276,6\n-166,-276,2\n166,-276,2\n-138,-276,2\n138,-276,2\n-110,-276,2\n110,-276,2\n-55,-276,2\n55,-276,2\n-28,-276,3\n28,-276,3\n0,-276,3\n-276,-303,1\n276,-303,1\n-248,-303,1\n248,-303,1\n-193,-303,5\n193,-303,5\n-166,-303,4\n166,-303,4\n-138,-303,5\n138,-303,5\n-110,-303,3\n110,-303,3\n-83,-303,2\n83,-303,2\n-55,-303,1\n55,-303,1\n-28,-303,3\n28,-303,3\n0,-303,3\n-276,-331,1\n276,-331,1\n-193,-331,3\n193,-331,3\n-166,-331,5\n166,-331,5\n-138,-331,5\n138,-331,5\n-110,-331,15\n110,-331,15\n-83,-331,8\n83,-331,8\n-55,-331,8\n55,-331,8\n-28,-331,7\n28,-331,7\n0,-331,7\n-166,-359,1\n166,-359,1\n-138,-359,1\n138,-359,1\n-110,-359,1\n110,-359,1\n-55,-359,4\n55,-359,4\n-28,-359,6\n28,-359,6\n0,-359,5\n-110,-386,1\n110,-386,1\n-28,-386,1\n28,-386,1","format":{"type":"csv"}},"mark":{"type":"rect","width":4.2},"encoding":{"x":{"field":"x","type":"quantitative","scale":{"domain":[-400,400],"nice":false},"axis":{"tickCount":5,"title":"v\u00a0\u00a0\u00a0(cm/μ\u00a0\u00a0s)"}},"y":{"field":"y","type":"quantitative","scale":{"domain":[-400,400],"nice":false},"axis":{"tickCount":5,"title":"v\u00a0\u00a0\u00a0(cm/μ\u00a0\u00a0s)"}},"color":{"field":"v","type":"quantitative","scale":{"domain":[0,15],"range":["#352a87","#0363e1","#1485d4","#06a7c6","#38b99e","#92bf73","#d9ba56","#fcce2e","#f9fb0e"]},"legend":{"values":[0,5,10,15]}}}},{"data":{"values":[{"a":0}]},"mark":"rule","encoding":{"x":{"datum":0}}},{"data":{"values":[{"a":0}]},"mark":"rule","encoding":{"y":{"datum":0}}},{"data":{"values":[{"t":"x"}]},"mark":{"type":"text","style":"sub","dx":-23,"dy":36},"encoding":{"x":{"datum":0},"y":{"datum":-400},"text":{"field":"t"}}},{"data":{"values":[{"t":"y"}]},"mark":{"type":"text","style":"sub","angle":270,"dx":-23,"dy":-33},"encoding":{"x":{"datum":-400},"y":{"datum":0},"text":{"field":"t"}}},{"data":{"values":[{"t":"y = 0.2 cm"}]},"mark":{"type":"text","style":"rl","dy":-80,"dx":-6},"encoding":{"x":{"datum":-400},"y":{"datum":0},"text":{"field":"t"}}}]},
{"width":121,"height":180,"layer":[{"data":{"values":"x,y,v\n0,248,1\n-28,193,1\n28,193,1\n-110,166,1\n110,166,1\n-55,166,1\n55,166,1\n0,166,1\n-221,138,1\n221,138,1\n-166,138,1\n166,138,1\n0,138,1\n-166,110,2\n166,110,2\n-138,110,2\n138,110,2\n-110,110,2\n110,110,2\n-83,110,2\n83,110,2\n-55,110,2\n55,110,2\n-28,110,3\n28,110,3\n0,110,3\n-166,83,2\n166,83,2\n-138,83,2\n138,83,2\n-110,83,3\n110,83,3\n-83,83,4\n83,83,4\n-55,83,6\n55,83,6\n-28,83,40\n28,83,40\n0,83,50\n-166,55,2\n166,55,2\n-138,55,3\n138,55,3\n-110,55,4\n110,55,4\n-83,55,5\n83,55,5\n-55,55,15\n55,55,15\n-28,55,70\n28,55,70\n0,55,90\n-221,28,1\n221,28,1\n-193,28,1\n193,28,1\n-166,28,3\n166,28,3\n-138,28,4\n138,28,4\n-110,28,5\n110,28,5\n-83,28,30\n83,28,30\n-55,28,100\n55,28,100\n-28,28,290\n28,28,290\n0,28,250\n-221,0,1\n221,0,1\n-193,0,3\n193,0,3\n-166,0,3\n166,0,3\n-138,0,4\n138,0,4\n-110,0,5\n110,0,5\n-83,0,40\n83,0,40\n-55,0,170\n55,0,170\n-28,0,330\n28,0,330\n0,0,340\n-221,-28,1\n221,-28,1\n-193,-28,2\n193,-28,2\n-166,-28,2\n166,-28,2\n-138,-28,3\n138,-28,3\n-110,-28,6\n110,-28,6\n-83,-28,35\n83,-28,35\n-55,-28,160\n55,-28,160\n-28,-28,310\n28,-28,310\n0,-28,320\n-193,-55,1\n193,-55,1\n-166,-55,2\n166,-55,2\n-138,-55,2\n138,-55,2\n-110,-55,3\n110,-55,3\n-83,-55,12\n83,-55,12\n-55,-55,60\n55,-55,60\n-28,-55,120\n28,-55,120\n0,-55,130\n-193,-83,1\n193,-83,1\n-166,-83,1\n166,-83,1\n-138,-83,1\n138,-83,1\n-110,-83,2\n110,-83,2\n-83,-83,5\n83,-83,5\n-55,-83,10\n55,-83,10\n-28,-83,40\n28,-83,40\n0,-83,45\n-221,-110,1\n221,-110,1\n-166,-110,1\n166,-110,1\n-138,-110,1\n138,-110,1\n-110,-110,1\n110,-110,1\n-83,-110,1\n83,-110,1\n-55,-110,2\n55,-110,2\n-28,-110,5\n28,-110,5\n0,-110,5\n-138,-138,1\n138,-138,1\n-110,-138,1\n110,-138,1\n-83,-138,1\n83,-138,1\n-55,-138,1\n55,-138,1\n-28,-138,1\n28,-138,1\n0,-138,1\n-138,-166,1\n138,-166,1\n-55,-166,1\n55,-166,1\n-28,-166,1\n28,-166,1\n0,-166,1\n-276,-193,1\n276,-193,1\n-138,-193,1\n138,-193,1\n-83,-193,1\n83,-193,1\n-55,-193,1\n55,-193,1\n-28,-193,1\n28,-193,1\n0,-193,1\n-110,-221,1\n110,-221,1","format":{"type":"csv"}},"mark":{"type":"rect","width":4.2},"encoding":{"x":{"field":"x","type":"quantitative","scale":{"domain":[-400,400],"nice":false},"axis":{"tickCount":5,"title":"v\u00a0\u00a0\u00a0(cm/μ\u00a0\u00a0s)"}},"y":{"field":"y","type":"quantitative","scale":{"domain":[-400,400],"nice":false},"axis":{"tickCount":5,"title":"v\u00a0\u00a0\u00a0(cm/μ\u00a0\u00a0s)"}},"color":{"field":"v","type":"quantitative","scale":{"domain":[0,350],"range":["#352a87","#0363e1","#1485d4","#06a7c6","#38b99e","#92bf73","#d9ba56","#fcce2e","#f9fb0e"]},"legend":{"values":[0,50,100,150,200,250,300,350]}}}},{"data":{"values":[{"a":0}]},"mark":"rule","encoding":{"x":{"datum":0}}},{"data":{"values":[{"a":0}]},"mark":"rule","encoding":{"y":{"datum":0}}},{"data":{"values":[{"t":"x"}]},"mark":{"type":"text","style":"sub","dx":-23,"dy":36},"encoding":{"x":{"datum":0},"y":{"datum":-400},"text":{"field":"t"}}},{"data":{"values":[{"t":"y"}]},"mark":{"type":"text","style":"sub","angle":270,"dx":-23,"dy":-33},"encoding":{"x":{"datum":-400},"y":{"datum":0},"text":{"field":"t"}}}]}]},
{"width":155,"height":180,"layer":[{"data":{"values":"x,y,v\n-.083,.424,1\n.083,.424,1\n-.062,.424,1\n.062,.424,1\n-.166,.283,2\n.166,.283,2\n-.145,.283,2\n.145,.283,2\n-.124,.283,3\n.124,.283,3\n-.103,.283,3\n.103,.283,3\n-.083,.283,5\n.083,.283,5\n-.062,.283,6\n.062,.283,6\n-.041,.283,9\n.041,.283,9\n-.021,.283,12\n.021,.283,12\n0,.283,12\n-.207,.141,1\n.207,.141,1\n-.186,.141,3\n.186,.141,3\n-.166,.141,8\n.166,.141,8\n-.145,.141,10\n.145,.141,10\n-.124,.141,12\n.124,.141,12\n-.103,.141,25\n.103,.141,25\n-.083,.141,35\n.083,.141,35\n-.062,.141,55\n.062,.141,55\n-.041,.141,60\n.041,.141,60\n-.021,.141,80\n.021,.141,80\n0,.141,85\n-.228,0,1\n.228,0,1\n-.207,0,2\n.207,0,2\n-.186,0,5\n.186,0,5\n-.166,0,8\n.166,0,8\n-.145,0,12\n.145,0,12\n-.124,0,20\n.124,0,20\n-.103,0,35\n.103,0,35\n-.083,0,55\n.083,0,55\n-.062,0,70\n.062,0,70\n-.041,0,85\n.041,0,85\n-.021,0,100\n.021,0,100\n0,0,100\n-.186,-.141,2\n.186,-.141,2\n-.166,-.141,3\n.166,-.141,3\n-.145,-.141,4\n.145,-.141,4\n-.124,-.141,5\n.124,-.141,5\n-.103,-.141,12\n.103,-.141,12\n-.083,-.141,15\n.083,-.141,15\n-.062,-.141,20\n.062,-.141,20\n-.041,-.141,30\n.041,-.141,30\n-.021,-.141,35\n.021,-.141,35\n0,-.141,30","format":{"type":"csv"}},"mark":{"type":"rect","width":5.35},"encoding":{"x":{"field":"x","type":"quantitative","scale":{"domain":[-0.3,0.3],"nice":false},"axis":{"tickCount":3,"title":"v\u00a0\u00a0\u00a0(cm/μ\u00a0\u00a0s)"}},"y":{"field":"y","type":"quantitative","scale":{"domain":[-0.21,3.9],"nice":false},"axis":{"tickCount":8,"titlePadding":7,"title":"v\u00a0\u00a0\u00a0(cm/μ\u00a0\u00a0s)"}},"color":{"field":"v","type":"quantitative","scale":{"domain":[0,100],"range":["#352a87","#0363e1","#1485d4","#06a7c6","#38b99e","#92bf73","#d9ba56","#fcce2e","#f9fb0e"]},"legend":{"values":[0,20,40,60,80,100],"offset":6}}}},{"data":{"values":[{"a":0}]},"mark":"rule","encoding":{"x":{"datum":0}}},{"data":{"values":[{"a":0}]},"mark":"rule","encoding":{"y":{"datum":0}}},{"data":{"values":[{"t":"x"}]},"mark":{"type":"text","style":"sub","dx":-23,"dy":36},"encoding":{"x":{"datum":0},"y":{"datum":-0.21},"text":{"field":"t"}}},{"data":{"values":[{"t":"y"}]},"mark":{"type":"text","style":"sub","angle":270,"dx":-23,"dy":-25},"encoding":{"x":{"datum":-0.3},"y":{"datum":1.85},"text":{"field":"t"}}}]}]},
{"spacing":11,"resolve":{"scale":{"color":"independent"}},"hconcat":[{"spacing":8,"resolve":{"scale":{"color":"independent"}},"hconcat":[
{"width":121,"height":180,"layer":[{"data":{"values":"x,y,v\n-138,331,1\n138,331,1\n-110,331,2\n110,331,2\n-166,303,1\n166,303,1\n-55,303,1\n55,303,1\n-138,248,1\n138,248,1\n-248,221,1\n248,221,1\n-166,221,1\n166,221,1\n-221,193,1\n221,193,1\n-193,193,1\n193,193,1\n-83,166,1\n83,166,1\n-303,138,1\n303,138,1\n-276,138,2\n276,138,2\n-221,138,1\n221,138,1\n-193,138,1\n193,138,1\n-166,138,1\n166,138,1\n-110,138,1\n110,138,1\n-83,138,1\n83,138,1\n-386,110,1\n386,110,1\n-359,110,1\n359,110,1\n-331,110,2\n331,110,2\n-303,110,2\n303,110,2\n-276,110,1\n276,110,1\n-248,110,1\n248,110,1\n-221,110,1\n221,110,1\n-166,110,3\n166,110,3\n-110,110,1\n110,110,1\n-83,110,1\n83,110,1\n-28,110,2\n28,110,2\n-359,83,1\n359,83,1\n-331,83,2\n331,83,2\n-303,83,2\n303,83,2\n-276,83,1\n276,83,1\n-166,83,2\n166,83,2\n-110,83,1\n110,83,1\n-55,83,1\n55,83,1\n-359,55,1\n359,55,1\n-331,55,2\n331,55,2\n-303,55,1\n303,55,1\n-248,55,1\n248,55,1\n-221,55,2\n221,55,2\n-193,55,2\n193,55,2\n-166,55,2\n166,55,2\n-138,55,2\n138,55,2\n-55,55,1\n55,55,1\n-386,28,1\n386,28,1\n-359,28,3\n359,28,3\n-331,28,4\n331,28,4\n-303,28,1\n303,28,1\n-276,28,2\n276,28,2\n-248,28,1\n248,28,1\n-221,28,2\n221,28,2\n-193,28,1\n193,28,1\n-166,28,2\n166,28,2\n-138,28,1\n138,28,1\n-28,28,1\n28,28,1\n-386,0,1\n386,0,1\n-359,0,2\n359,0,2\n-331,0,2\n331,0,2\n-303,0,2\n303,0,2\n-276,0,1\n276,0,1\n-248,0,1\n248,0,1\n-221,0,1\n221,0,1\n-193,0,1\n193,0,1\n-166,0,1\n166,0,1\n-138,0,1\n138,0,1\n-83,0,1\n83,0,1\n-55,0,1\n55,0,1\n-28,0,2\n28,0,2\n0,0,3\n-386,-28,1\n386,-28,1\n-359,-28,1\n359,-28,1\n-331,-28,2\n331,-28,2\n-303,-28,1\n303,-28,1\n-248,-28,1\n248,-28,1\n-83,-28,1\n83,-28,1\n-55,-28,1\n55,-28,1\n-28,-28,1\n28,-28,1\n0,-28,3\n-331,-55,6\n331,-55,6\n-303,-55,2\n303,-55,2\n-276,-55,1\n276,-55,1\n-248,-55,1\n248,-55,1\n-83,-55,1\n83,-55,1\n-55,-55,1\n55,-55,1\n-28,-55,1\n28,-55,1\n0,-55,4\n-359,-83,1\n359,-83,1\n-331,-83,3\n331,-83,3\n-303,-83,2\n303,-83,2\n-248,-83,1\n248,-83,1\n-221,-83,2\n221,-83,2\n-193,-83,2\n193,-83,2\n-166,-83,2\n166,-83,2\n-83,-83,1\n83,-83,1\n-55,-83,1\n55,-83,1\n-28,-83,1\n28,-83,1\n0,-83,4\n-359,-110,1\n359,-110,1\n-331,-110,3\n331,-110,3\n-303,-110,1\n303,-110,1\n-276,-110,2\n276,-110,2\n-248,-110,1\n248,-110,1\n-221,-110,2\n221,-110,2\n-193,-110,1\n193,-110,1\n-166,-110,2\n166,-110,2\n-55,-110,1\n55,-110,1\n0,-110,3\n-359,-138,1\n359,-138,1\n-331,-138,2\n331,-138,2\n-303,-138,5\n303,-138,5\n-276,-138,2\n276,-138,2\n-248,-138,2\n248,-138,2\n-221,-138,2\n221,-138,2\n-193,-138,2\n193,-138,2\n-166,-138,2\n166,-138,2\n-138,-138,1\n138,-138,1\n-83,-138,1\n83,-138,1\n-303,-166,4\n303,-166,4\n-276,-166,2\n276,-166,2\n-248,-166,2\n248,-166,2\n-221,-166,2\n221,-166,2\n-193,-166,2\n193,-166,2\n-166,-166,1\n166,-166,1\n-138,-166,1\n138,-166,1\n-55,-166,1\n55,-166,1\n-28,-166,1\n28,-166,1\n0,-166,3\n-303,-193,5\n303,-193,5\n-276,-193,7\n276,-193,7\n-248,-193,3\n248,-193,3\n-221,-193,1\n221,-193,1\n-110,-193,1\n110,-193,1\n-83,-193,1\n83,-193,1\n-55,-193,2\n55,-193,2\n-28,-193,2\n28,-193,2\n0,-193,3\n-276,-221,4\n276,-221,4\n-248,-221,5\n248,-221,5\n-221,-221,3\n221,-221,3\n-193,-221,1\n193,-221,1\n-83,-221,1\n83,-221,1\n-28,-221,2\n28,-221,2\n0,-221,4\n-331,-248,1\n331,-248,1\n-276,-248,8\n276,-248,8\n-248,-248,6\n248,-248,6\n-221,-248,3\n221,-248,3\n-193,-248,2\n193,-248,2\n-138,-248,2\n138,-248,2\n-110,-248,2\n110,-248,2\n-55,-248,2\n55,-248,2\n-28,-248,2\n28,-248,2\n0,-248,3\n-248,-276,3\n248,-276,3\n-221,-276,7\n221,-276,7\n-193,-276,5\n193,-276,5\n-166,-276,3\n166,-276,3\n-138,-276,2\n138,-276,2\n-110,-276,2\n110,-276,2\n-55,-276,2\n55,-276,2\n-28,-276,3\n28,-276,3\n0,-276,3\n-221,-303,2\n221,-303,2\n-193,-303,12\n193,-303,12\n-166,-303,9\n166,-303,9\n-138,-303,5\n138,-303,5\n-110,-303,5\n110,-303,5\n-83,-303,3\n83,-303,3\n-55,-303,2\n55,-303,2\n-28,-303,3\n28,-303,3\n0,-303,3\n-276,-331,1\n276,-331,1\n-221,-331,2\n221,-331,2\n-193,-331,2\n193,-331,2\n-166,-331,3\n166,-331,3\n-138,-331,3\n138,-331,3\n-110,-331,12\n110,-331,12\n-83,-331,11\n83,-331,11\n-55,-331,8\n55,-331,8\n-28,-331,6\n28,-331,6\n0,-331,6\n-110,-359,1\n110,-359,1\n-83,-359,2\n83,-359,2\n-55,-359,3\n55,-359,3\n-28,-359,5\n28,-359,5\n0,-359,5\n-110,-386,1\n110,-386,1\n0,-386,1","format":{"type":"csv"}},"mark":{"type":"rect","width":4.2},"encoding":{"x":{"field":"x","type":"quantitative","scale":{"domain":[-400,400],"nice":false},"axis":{"tickCount":5,"title":"v\u00a0\u00a0\u00a0(cm/μ\u00a0\u00a0s)"}},"y":{"field":"y","type":"quantitative","scale":{"domain":[-400,400],"nice":false},"axis":{"tickCount":5,"title":"v\u00a0\u00a0\u00a0(cm/μ\u00a0\u00a0s)"}},"color":{"field":"v","type":"quantitative","scale":{"domain":[0,15],"range":["#352a87","#0363e1","#1485d4","#06a7c6","#38b99e","#92bf73","#d9ba56","#fcce2e","#f9fb0e"]},"legend":{"values":[0,5,10,15]}}}},{"data":{"values":[{"a":0}]},"mark":"rule","encoding":{"x":{"datum":0}}},{"data":{"values":[{"a":0}]},"mark":"rule","encoding":{"y":{"datum":0}}},{"data":{"values":[{"a":0}]},"mark":{"type":"rule","strokeWidth":1},"encoding":{"y":{"datum":14}}},{"data":{"values":[{"t":"x"}]},"mark":{"type":"text","style":"sub","dx":-23,"dy":36},"encoding":{"x":{"datum":0},"y":{"datum":-400},"text":{"field":"t"}}},{"data":{"values":[{"t":"y"}]},"mark":{"type":"text","style":"sub","angle":270,"dx":-23,"dy":-33},"encoding":{"x":{"datum":-400},"y":{"datum":0},"text":{"field":"t"}}},{"data":{"values":[{"t":"y = 0.1 cm"}]},"mark":{"type":"text","style":"rl","dy":-80,"dx":-25},"encoding":{"x":{"datum":-400},"y":{"datum":0},"text":{"field":"t"}}}]},
{"width":121,"height":180,"layer":[{"data":{"values":"x,y,v\n-28,193,1\n28,193,1\n-55,166,1\n55,166,1\n-193,138,1\n193,138,1\n-166,138,1\n166,138,1\n-110,138,1\n110,138,1\n-83,138,1\n83,138,1\n-55,138,1\n55,138,1\n-28,138,1\n28,138,1\n-193,110,1\n193,110,1\n-166,110,1\n166,110,1\n-138,110,1\n138,110,1\n-110,110,1\n110,110,1\n-83,110,1\n83,110,1\n-55,110,1\n55,110,1\n-28,110,1\n28,110,1\n-166,83,1\n166,83,1\n-138,83,1\n138,83,1\n-110,83,1\n110,83,1\n-83,83,1\n83,83,1\n-55,83,1\n55,83,1\n-28,83,15\n28,83,15\n0,83,25\n-166,55,1\n166,55,1\n-138,55,1\n138,55,1\n-110,55,2\n110,55,2\n-83,55,3\n83,55,3\n-55,55,25\n55,55,25\n-28,55,50\n28,55,50\n0,55,70\n-221,28,1\n221,28,1\n-193,28,1\n193,28,1\n-166,28,2\n166,28,2\n-138,28,2\n138,28,2\n-110,28,3\n110,28,3\n-83,28,25\n83,28,25\n-55,28,120\n55,28,120\n-28,28,250\n28,28,250\n0,28,300\n-193,0,1\n193,0,1\n-166,0,2\n166,0,2\n-138,0,2\n138,0,2\n-110,0,4\n110,0,4\n-83,0,45\n83,0,45\n-55,0,200\n55,0,200\n-28,0,320\n28,0,320\n0,0,350\n-276,-28,1\n276,-28,1\n-166,-28,2\n166,-28,2\n-138,-28,2\n138,-28,2\n-110,-28,5\n110,-28,5\n-83,-28,40\n83,-28,40\n-55,-28,170\n55,-28,170\n-28,-28,300\n28,-28,300\n0,-28,310\n-221,-55,1\n221,-55,1\n-193,-55,1\n193,-55,1\n-166,-55,2\n166,-55,2\n-138,-55,2\n138,-55,2\n-110,-55,3\n110,-55,3\n-83,-55,10\n83,-55,10\n-55,-55,70\n55,-55,70\n-28,-55,130\n28,-55,130\n0,-55,150\n-166,-83,1\n166,-83,1\n-138,-83,1\n138,-83,1\n-110,-83,2\n110,-83,2\n-83,-83,3\n83,-83,3\n-55,-83,12\n55,-83,12\n-28,-83,25\n28,-83,25\n0,-83,30\n-166,-110,1\n166,-110,1\n-138,-110,1\n138,-110,1\n-110,-110,1\n110,-110,1\n-83,-110,2\n83,-110,2\n-55,-110,2\n55,-110,2\n-28,-110,3\n28,-110,3\n0,-110,5\n-138,-138,1\n138,-138,1\n-110,-138,1\n110,-138,1\n-83,-138,1\n83,-138,1\n-55,-138,1\n55,-138,1\n-28,-138,1\n28,-138,1\n0,-138,1\n-110,-166,1\n110,-166,1\n-83,-166,1\n83,-166,1\n-55,-166,1\n55,-166,1\n-28,-166,1\n28,-166,1\n0,-166,1\n-83,-193,1\n83,-193,1\n-55,-193,1\n55,-193,1\n-28,-193,1\n28,-193,1\n0,-193,1\n-55,-221,1\n55,-221,1","format":{"type":"csv"}},"mark":{"type":"rect","width":4.2},"encoding":{"x":{"field":"x","type":"quantitative","scale":{"domain":[-400,400],"nice":false},"axis":{"tickCount":5,"title":"v\u00a0\u00a0\u00a0(cm/μ\u00a0\u00a0s)"}},"y":{"field":"y","type":"quantitative","scale":{"domain":[-400,400],"nice":false},"axis":{"tickCount":5,"title":"v\u00a0\u00a0\u00a0(cm/μ\u00a0\u00a0s)"}},"color":{"field":"v","type":"quantitative","scale":{"domain":[0,350],"range":["#352a87","#0363e1","#1485d4","#06a7c6","#38b99e","#92bf73","#d9ba56","#fcce2e","#f9fb0e"]},"legend":{"values":[0,50,100,150,200,250,300,350]}}}},{"data":{"values":[{"a":0}]},"mark":"rule","encoding":{"x":{"datum":0}}},{"data":{"values":[{"a":0}]},"mark":"rule","encoding":{"y":{"datum":0}}},{"data":{"values":[{"t":"x"}]},"mark":{"type":"text","style":"sub","dx":-23,"dy":36},"encoding":{"x":{"datum":0},"y":{"datum":-400},"text":{"field":"t"}}},{"data":{"values":[{"t":"y"}]},"mark":{"type":"text","style":"sub","angle":270,"dx":-23,"dy":-33},"encoding":{"x":{"datum":-400},"y":{"datum":0},"text":{"field":"t"}}}]}]},
{"width":155,"height":180,"layer":[{"data":{"values":"x,y,v\n-.145,.141,1\n.145,.141,1\n-.124,.141,1\n.124,.141,1\n-.083,.141,1\n.083,.141,1\n-.062,.141,1\n.062,.141,1\n-.041,.141,1\n.041,.141,1\n-.021,.141,2\n.021,.141,2\n0,.141,2\n-.207,0,1\n.207,0,1\n-.186,0,2\n.186,0,2\n-.166,0,3\n.166,0,3\n-.145,0,5\n.145,0,5\n-.124,0,8\n.124,0,8\n-.103,0,12\n.103,0,12\n-.083,0,20\n.083,0,20\n-.062,0,25\n.062,0,25\n-.041,0,35\n.041,0,35\n-.021,0,40\n.021,0,40\n0,0,42\n-.228,-.141,1\n.228,-.141,1\n-.207,-.141,2\n.207,-.141,2\n-.186,-.141,4\n.186,-.141,4\n-.166,-.141,7\n.166,-.141,7\n-.145,-.141,12\n.145,-.141,12\n-.124,-.141,16\n.124,-.141,16\n-.103,-.141,30\n.103,-.141,30\n-.083,-.141,45\n.083,-.141,45\n-.062,-.141,65\n.062,-.141,65\n-.041,-.141,100\n.041,-.141,100\n-.021,-.141,100\n.021,-.141,100\n0,-.141,100","format":{"type":"csv"}},"mark":{"type":"rect","width":5.35},"encoding":{"x":{"field":"x","type":"quantitative","scale":{"domain":[-0.3,0.3],"nice":false},"axis":{"tickCount":3,"title":"v\u00a0\u00a0\u00a0(cm/μ\u00a0\u00a0s)"}},"y":{"field":"y","type":"quantitative","scale":{"domain":[-0.21,3.9],"nice":false},"axis":{"tickCount":8,"titlePadding":7,"title":"v\u00a0\u00a0\u00a0(cm/μ\u00a0\u00a0s)"}},"color":{"field":"v","type":"quantitative","scale":{"domain":[0,100],"range":["#352a87","#0363e1","#1485d4","#06a7c6","#38b99e","#92bf73","#d9ba56","#fcce2e","#f9fb0e"]},"legend":{"values":[0,20,40,60,80,100],"offset":6}}}},{"data":{"values":[{"a":0}]},"mark":"rule","encoding":{"x":{"datum":0}}},{"data":{"values":[{"a":0}]},"mark":"rule","encoding":{"y":{"datum":0}}},{"data":{"values":[{"t":"x"}]},"mark":{"type":"text","style":"sub","dx":-23,"dy":36},"encoding":{"x":{"datum":0},"y":{"datum":-0.21},"text":{"field":"t"}}},{"data":{"values":[{"t":"y"}]},"mark":{"type":"text","style":"sub","angle":270,"dx":-23,"dy":-25},"encoding":{"x":{"datum":-0.3},"y":{"datum":1.85},"text":{"field":"t"}}}]}]}]}
